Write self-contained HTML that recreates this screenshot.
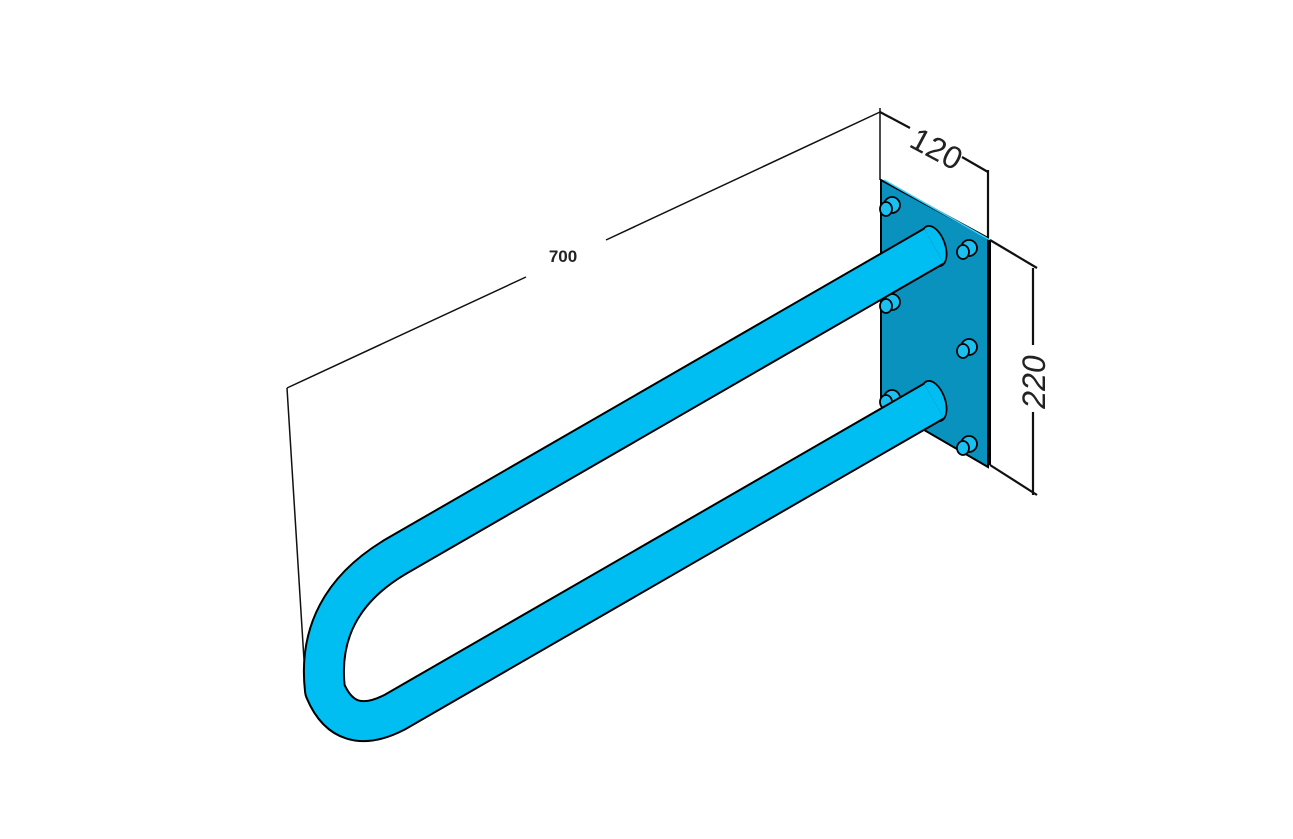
<!DOCTYPE html>
<html><head><meta charset="utf-8"><style>
html,body{margin:0;padding:0;background:#fff;width:1293px;height:839px;overflow:hidden}
svg{display:block}
</style></head><body>
<svg width="1293" height="839" viewBox="0 0 1293 839" xmlns="http://www.w3.org/2000/svg">
<!-- plate -->
<polygon points="881,180 988,238 988,467 881,405" fill="#0a92bf" stroke="#000" stroke-width="2"/>
<line x1="884" y1="180" x2="990" y2="240" stroke="#3ad0ff" stroke-width="1.5"/>
<line x1="990" y1="240" x2="990" y2="465" stroke="#000" stroke-width="2"/>
<!-- bolts -->
<g fill="#19c0f0" stroke="#000" stroke-width="1.8">
<ellipse cx="892" cy="205" rx="8" ry="8"/><ellipse cx="886" cy="209" rx="6" ry="7"/>
<ellipse cx="969" cy="248" rx="8" ry="8"/><ellipse cx="963" cy="252" rx="6" ry="7"/>
<ellipse cx="892" cy="302" rx="8" ry="8"/><ellipse cx="886" cy="306" rx="6" ry="7"/>
<ellipse cx="969" cy="347" rx="8" ry="8"/><ellipse cx="963" cy="351" rx="6" ry="7"/>
<ellipse cx="892" cy="398" rx="8" ry="8"/><ellipse cx="886" cy="402" rx="6" ry="7"/>
<ellipse cx="969" cy="444" rx="8" ry="8"/><ellipse cx="963" cy="448" rx="6" ry="7"/>
</g>
<!-- tube end caps -->
<ellipse cx="934" cy="246" rx="11" ry="21" transform="rotate(-20 934 246)" fill="#00bdf2" stroke="#000" stroke-width="1.8"/>
<ellipse cx="934" cy="401" rx="11" ry="21" transform="rotate(-20 934 401)" fill="#00bdf2" stroke="#000" stroke-width="1.8"/>
<!-- tube -->
<path d="M934,246 L395,557 Q315,605 325,690 Q345,738 395,712 L934,401" fill="none" stroke="#000" stroke-width="42" stroke-linejoin="round"/>
<path d="M934,246 L395,557 Q315,605 325,690 Q345,738 395,712 L934,401" fill="none" stroke="#00bdf2" stroke-width="38" stroke-linejoin="round"/>
<!-- dims 700 -->
<g stroke="#111" stroke-width="1.5" fill="none">
<line x1="287" y1="388" x2="526" y2="277"/>
<line x1="606" y1="240" x2="880" y2="112"/>
<line x1="287" y1="388" x2="304" y2="660"/>
<line x1="880" y1="108" x2="880" y2="180"/>
</g>
<text x="563" y="262" font-family="Liberation Sans, sans-serif" font-weight="bold" font-size="17" text-anchor="middle" fill="#222">700</text>
<!-- 120 / 220 -->
<g stroke="#111" stroke-width="2.2" fill="none">
<line x1="880" y1="112" x2="910" y2="128"/>
<line x1="962" y1="157" x2="988" y2="172"/>
<line x1="988" y1="170" x2="988" y2="238"/>
<line x1="990" y1="240" x2="1037" y2="268"/>
<line x1="990" y1="465" x2="1037" y2="495"/>
<line x1="1033" y1="268" x2="1033" y2="345"/>
<line x1="1033" y1="412" x2="1033" y2="495"/>
</g>
<text x="937" y="160" font-family="Liberation Sans, sans-serif" font-size="32" text-anchor="middle" fill="#222" transform="rotate(28 937 148)">120</text>
<text x="1045" y="382" font-family="Liberation Sans, sans-serif" font-size="32" font-style="italic" text-anchor="middle" fill="#222" transform="rotate(-90 1045 382)">220</text>
</svg>
</body></html>
